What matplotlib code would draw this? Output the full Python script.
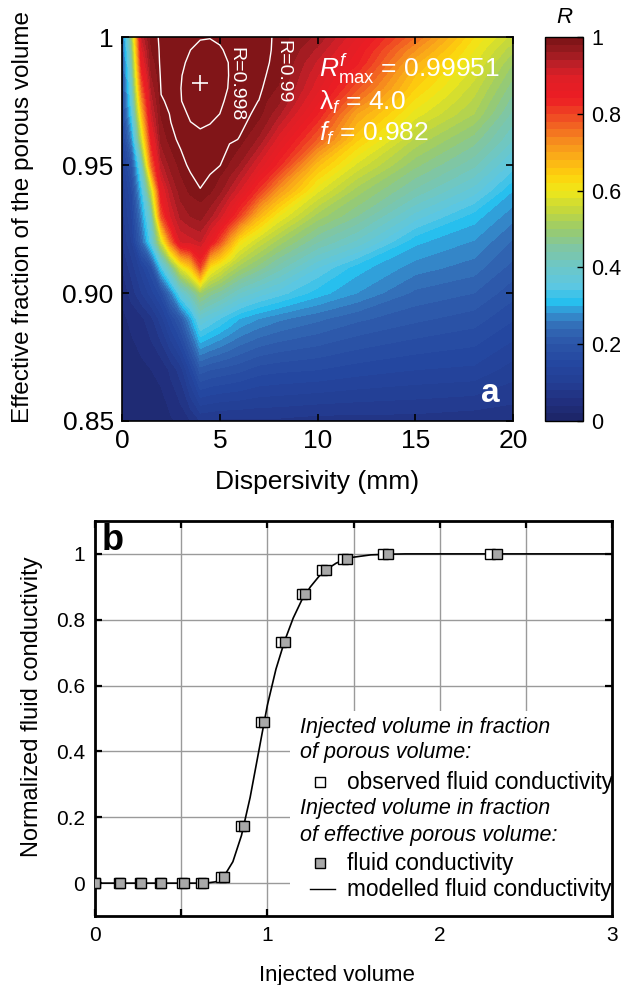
import numpy as np
import matplotlib.pyplot as plt
from matplotlib.colors import LinearSegmentedColormap
from matplotlib.patches import Rectangle

plt.rcParams['font.family'] = ['Liberation Sans', 'DejaVu Sans']
plt.rcParams['mathtext.fontset'] = 'custom'
plt.rcParams['mathtext.rm'] = 'Liberation Sans'
plt.rcParams['mathtext.it'] = 'Liberation Sans:italic'
plt.rcParams['mathtext.bf'] = 'Liberation Sans:bold'

# ---- panel a: correlation R over (dispersivity, effective fraction)
dispersivity = [0, 0.5, 1, 1.5, 2, 2.5, 3, 3.5, 4, 4.5, 5, 5.5, 6, 7, 8,
                10, 12, 15, 18, 20]
eff_fraction = [0.85, 0.87, 0.89, 0.90, 0.91, 0.92, 0.93, 0.94, 0.95,
                0.96, 0.97, 0.975, 0.98, 0.985, 0.99, 0.995, 1.0]
# one list per dispersivity value, running up through eff_fraction
R_columns = [
    [0.02, 0.025, 0.035, 0.045, 0.06, 0.08, 0.09, 0.10, 0.12, 0.14, 0.16, 0.17, 0.18, 0.19, 0.20, 0.21, 0.22],
    [0.022, 0.03, 0.045, 0.07, 0.09, 0.12, 0.14, 0.16, 0.20, 0.27, 0.34, 0.365, 0.39, 0.415, 0.44, 0.47, 0.50],
    [0.025, 0.035, 0.055, 0.10, 0.13, 0.23, 0.27, 0.32, 0.40, 0.55, 0.66, 0.715, 0.77, 0.815, 0.86, 0.89, 0.92],
    [0.028, 0.04, 0.075, 0.13, 0.18, 0.36, 0.42, 0.55, 0.76, 0.85, 0.91, 0.928, 0.945, 0.96, 0.972, 0.98, 0.986],
    [0.03, 0.045, 0.11, 0.17, 0.33, 0.56, 0.78, 0.87, 0.93, 0.968, 0.982, 0.9885, 0.9915, 0.993, 0.9935, 0.9927, 0.9917],
    [0.037, 0.065, 0.16, 0.26, 0.45, 0.76, 0.90, 0.935, 0.968, 0.987, 0.9915, 0.993, 0.9955, 0.9962, 0.99576, 0.99506, 0.99411],
    [0.045, 0.09, 0.21, 0.37, 0.58, 0.90, 0.945, 0.97, 0.986, 0.9925, 0.9965, 0.9979, 0.99797, 0.99785, 0.99746, 0.99681, 0.99591],
    [0.06, 0.145, 0.29, 0.43, 0.65, 0.91, 0.96, 0.984, 0.9925, 0.9962, 0.9988, 0.9989, 0.999, 0.99892, 0.99859, 0.99799, 0.99714],
    [0.08, 0.21, 0.38, 0.50, 0.80, 0.92, 0.968, 0.9895, 0.995, 0.9973, 0.9990, 0.9993, 0.99946, 0.99943, 0.99915, 0.9986, 0.99781],
    [0.078, 0.20, 0.36, 0.47, 0.62, 0.865, 0.945, 0.984, 0.9935, 0.9968, 0.9988, 0.9991, 0.99938, 0.9994, 0.99916, 0.99866, 0.9979],
    [0.075, 0.195, 0.34, 0.45, 0.58, 0.79, 0.91, 0.966, 0.9908, 0.995, 0.998, 0.9984, 0.99888, 0.99893, 0.99873, 0.99827, 0.99756],
    [0.075, 0.19, 0.32, 0.425, 0.54, 0.70, 0.86, 0.935, 0.978, 0.9925, 0.9965, 0.9975, 0.9978, 0.9979, 0.99789, 0.99747, 0.99679],
    [0.075, 0.185, 0.30, 0.40, 0.51, 0.615, 0.80, 0.90, 0.958, 0.9895, 0.9945, 0.9947, 0.99664, 0.99677, 0.99664, 0.99626, 0.99562],
    [0.075, 0.17, 0.28, 0.37, 0.47, 0.555, 0.675, 0.81, 0.895, 0.955, 0.987, 0.9898, 0.9928, 0.9929, 0.9929, 0.9926, 0.992],
    [0.075, 0.165, 0.265, 0.35, 0.43, 0.51, 0.60, 0.715, 0.83, 0.89, 0.945, 0.965, 0.978, 0.985, 0.9875, 0.9885, 0.989],
    [0.07, 0.16, 0.245, 0.31, 0.36, 0.44, 0.51, 0.585, 0.665, 0.775, 0.84, 0.865, 0.886, 0.90, 0.915, 0.935, 0.955],
    [0.07, 0.15, 0.225, 0.28, 0.31, 0.395, 0.46, 0.51, 0.575, 0.645, 0.70, 0.745, 0.785, 0.815, 0.845, 0.86, 0.88],
    [0.07, 0.14, 0.205, 0.235, 0.27, 0.305, 0.37, 0.435, 0.485, 0.535, 0.59, 0.615, 0.64, 0.66, 0.685, 0.72, 0.76],
    [0.065, 0.135, 0.19, 0.22, 0.25, 0.278, 0.31, 0.37, 0.425, 0.47, 0.52, 0.535, 0.55, 0.567, 0.585, 0.60, 0.62],
    [0.065, 0.11, 0.162, 0.187, 0.212, 0.237, 0.267, 0.30, 0.35, 0.40, 0.433, 0.45, 0.467, 0.483, 0.50, 0.525, 0.55],
]
contour_levels = [0.99, 0.998]
best_lambda = 4.0
best_f = 0.982
R_max = 0.99951

# ---- panel b: breakthrough curve
obs_volume = [0.0, 0.14, 0.26, 0.375, 0.507, 0.617, 0.733, 0.847, 0.961,
              1.08, 1.20, 1.32, 1.44, 1.67, 2.29]
eff_volume = [0.0, 0.143, 0.265, 0.382, 0.516, 0.628, 0.747, 0.863, 0.979,
              1.10, 1.22, 1.34, 1.46, 1.70, 2.33]
conductivity = [0, 0, 0, 0, 0, 0, 0.018, 0.173, 0.49, 0.733, 0.879, 0.952,
                0.985, 1.0, 1.0]
model_volume = [0, 0.6, 0.65, 0.7, 0.75, 0.8, 0.85, 0.9, 0.95, 1.0, 1.05, 1.1,
                1.15, 1.2, 1.25, 1.3, 1.35, 1.4, 1.45, 1.5, 1.6, 1.7, 1.8, 2.0, 3.0]
model_cond = [0, 0, 0.0005, 0.004, 0.022, 0.065, 0.145, 0.26, 0.40, 0.54, 0.65,
              0.735, 0.805, 0.86, 0.90, 0.932, 0.955, 0.972, 0.983, 0.99, 0.997,
              0.999, 1.0, 1.0, 1.0]

cmap = LinearSegmentedColormap.from_list('rcmap', [
    (0.00, '#1c2466'), (0.05, '#21307f'), (0.10, '#233e94'), (0.15, '#2447a0'),
    (0.20, '#2c55a8'), (0.25, '#336fb8'), (0.28, '#3490d0'), (0.31, '#27bfee'),
    (0.35, '#5cc7e2'), (0.40, '#6dc7c6'), (0.45, '#7ec6a5'), (0.50, '#9bcb6b'),
    (0.55, '#c6d83a'), (0.60, '#eee81a'), (0.64, '#fed20c'), (0.68, '#fbb316'),
    (0.72, '#f7941d'), (0.76, '#f36f21'), (0.80, '#ef4623'), (0.84, '#ed1c24'),
    (0.89, '#e01f26'), (0.93, '#c01f28'), (0.96, '#9c1b20'), (1.00, '#7a1416'),
])

fig = plt.figure(figsize=(6.21, 9.85), dpi=100)
ax = fig.add_axes([0.1965, 0.5726, 0.6296, 0.3898])
cax = fig.add_axes([0.8776, 0.5726, 0.0612, 0.3898])

X, Y = np.meshgrid(dispersivity, eff_fraction)
Z = np.array(R_columns).T
cf = ax.contourf(X, Y, Z, levels=np.linspace(0, 1, 51), cmap=cmap, vmin=0, vmax=1)
ax.contour(X, Y, Z, levels=contour_levels, colors='white', linewidths=1.0)
ax.plot(best_lambda, best_f, marker='+', color='white', markersize=11, mew=1.2)

ax.text(5.8, 0.9815, 'R=0.998', color='white', fontsize=14, rotation=-90,
        ha='center', va='center')
ax.text(8.25, 0.9865, 'R=0.99', color='white', fontsize=14, rotation=-90,
        ha='center', va='center')
ax.text(10.1, 0.9875, r'$R^{f}_{\mathrm{max}}$ = %.5f' % R_max, color='white',
        fontsize=19, va='center')
ax.text(10.1, 0.9745, r'$\mathrm{\lambda}_{f}$ = %.1f' % best_lambda, color='white',
        fontsize=19, va='center')
ax.text(10.1, 0.9625, r'$f_{f}$ = %.3f' % best_f, color='white',
        fontsize=19, va='center')
ax.text(0.965, 0.03, 'a', transform=ax.transAxes, color='white', fontsize=24,
        fontweight='bold', ha='right', va='bottom')

ax.set_xlim(0, 20)
ax.set_ylim(0.85, 1.0)
ax.set_xticks([0, 5, 10, 15, 20])
ax.set_xticklabels(['0', '5', '10', '15', '20'])
ax.set_yticks([0.85, 0.90, 0.95, 1.0])
ax.set_yticklabels(['0.85', '0.90', '0.95', '1'])
ax.tick_params(direction='in', top=True, right=True, length=5, width=1.2,
               labelsize=19, pad=6)
for s in ax.spines.values():
    s.set_linewidth(1.2)
ax.set_xlabel('Dispersivity (mm)', fontsize=19, labelpad=12)
ax.set_ylabel('Effective fraction of the porous volume', fontsize=17.5)
ax.yaxis.set_label_coords(-0.225, 0.53)

cb = fig.colorbar(cf, cax=cax, ticks=[0, 0.2, 0.4, 0.6, 0.8, 1.0])
cb.ax.set_yticklabels(['0', '0.2', '0.4', '0.6', '0.8', '1'])
cb.ax.tick_params(direction='in', length=4, width=1, labelsize=15.5, pad=6)
cb.outline.set_linewidth(1.0)
cax.set_title('R', fontstyle='italic', fontsize=16, pad=10)

# ---- panel b
bx = fig.add_axes([0.153, 0.070, 0.8325, 0.4011])
bx.set_axisbelow(True)
bx.grid(True, color='#9a9a9a', linewidth=1.0)
bx.plot(model_volume, model_cond, color='black', linewidth=1.2, zorder=3)
bx.plot(obs_volume, conductivity, linestyle='none', marker='s', markersize=6.5,
        markerfacecolor='white', markeredgecolor='black', mew=1.0, zorder=4)
bx.plot(eff_volume, conductivity, linestyle='none', marker='s', markersize=6.5,
        markerfacecolor='#a8a8a8', markeredgecolor='black', mew=1.0, zorder=5)

bx.add_patch(Rectangle((0.377, 0.0), 0.623, 0.52, transform=bx.transAxes,
                       facecolor='white', edgecolor='none', zorder=2))
lx_head, lx_mark, lx_text = 0.397, 0.435, 0.487
bx.text(lx_head, 0.478, 'Injected volume in fraction', transform=bx.transAxes,
        fontsize=15.5, style='italic', va='center', zorder=6)
bx.text(lx_head, 0.413, 'of porous volume:', transform=bx.transAxes,
        fontsize=15.5, style='italic', va='center', zorder=6)
bx.plot([lx_mark], [0.339], transform=bx.transAxes, marker='s', markersize=6.5,
        markerfacecolor='white', markeredgecolor='black', mew=1.0, zorder=6)
bx.text(lx_text, 0.339, 'observed fluid conductivity', transform=bx.transAxes,
        fontsize=16.3, va='center', zorder=6)
bx.text(lx_head, 0.271, 'Injected volume in fraction', transform=bx.transAxes,
        fontsize=15.5, style='italic', va='center', zorder=6)
bx.text(lx_head, 0.205, 'of effective porous volume:', transform=bx.transAxes,
        fontsize=15.5, style='italic', va='center', zorder=6)
bx.plot([lx_mark], [0.134], transform=bx.transAxes, marker='s', markersize=6.5,
        markerfacecolor='#a8a8a8', markeredgecolor='black', mew=1.0, zorder=6)
bx.text(lx_text, 0.134, 'fluid conductivity', transform=bx.transAxes,
        fontsize=16.3, va='center', zorder=6)
bx.plot([0.416, 0.464], [0.068, 0.068], transform=bx.transAxes, color='black',
        linewidth=1.0, zorder=6)
bx.text(lx_text, 0.068, 'modelled fluid conductivity', transform=bx.transAxes,
        fontsize=16.3, va='center', zorder=6)

bx.text(0.012, 0.995, 'b', transform=bx.transAxes, fontsize=26,
        fontweight='bold', ha='left', va='top')

bx.set_xlim(0, 3)
bx.set_ylim(-0.1, 1.1)
bx.set_xticks([0, 0.5, 1, 1.5, 2, 2.5, 3])
bx.set_xticklabels(['0', '', '1', '', '2', '', '3'])
bx.set_yticks([0, 0.2, 0.4, 0.6, 0.8, 1.0])
bx.set_yticklabels(['0', '0.2', '0.4', '0.6', '0.8', '1'])
bx.tick_params(direction='in', top=True, right=True, length=5, width=1.6,
               labelsize=15, pad=7)
for s in bx.spines.values():
    s.set_linewidth(2.0)
bx.set_xlabel('Injected volume', fontsize=16)
bx.xaxis.set_label_coords(0.468, -0.125)
bx.set_ylabel('Normalized fluid conductivity', fontsize=17)
bx.yaxis.set_label_coords(-0.10, 0.53)

fig.savefig('out.png', dpi=100)
